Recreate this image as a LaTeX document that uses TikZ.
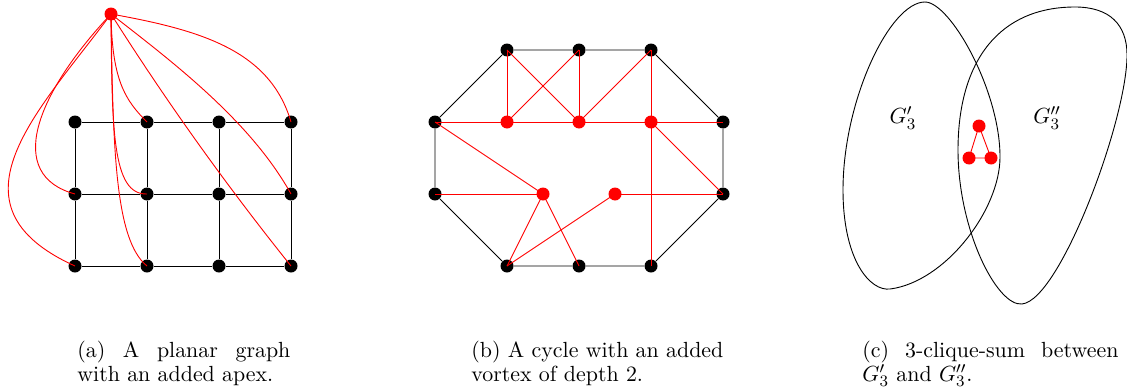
\documentclass[tikz,border=0pt]{standalone}
\pgfdeclarelayer{bg}
\pgfdeclarelayer{fg}
\pgfsetlayers{bg,main,fg}
\begin{document}
\begin{tikzpicture}[x=0.5pt,y=-0.5pt,
  bdot/.style={circle,fill=black,inner sep=0pt,minimum size=6.5pt},
  rdot/.style={circle,fill=red,inner sep=0pt,minimum size=6.5pt},
  bedge/.style={black,line width=0.45pt},
  redge/.style={red,line width=0.45pt},
  blob/.style={black,line width=0.45pt},
  lbl/.style={inner sep=0pt,font=\fontsize{10.95}{11.6}\selectfont},
  capt/.style={anchor=north west,inner sep=0pt,align=justify,font=\fontsize{10.95}{11.6}\selectfont}]
\useasboundingbox (0,0) rectangle (1127,391);

% ---------------- (a) ----------------
\foreach \c/\x in {1/75,2/147,3/219,4/291}{
  \foreach \r/\y in {1/122,2/194,3/266}{
    \node[bdot] (a\r\c) at (\x,\y) {};
  }
}
\begin{pgfonlayer}{fg}
\node[rdot] (ap) at (111,14) {};
\end{pgfonlayer}
\begin{pgfonlayer}{bg}
\foreach \r in {1,2,3}{\draw[bedge] (a\r1)--(a\r2)--(a\r3)--(a\r4);}
\foreach \c in {1,2,3,4}{\draw[bedge] (a1\c)--(a2\c)--(a3\c);}
\end{pgfonlayer}
\draw[redge] (ap.center) .. controls (40,110) and (-60,205) .. (a31.center);
\draw[redge] (ap.center) .. controls (35,95) and (5,175) .. (a21.center);
\draw[redge] (ap.center) .. controls (112,80) and (125,100) .. (a12.center);
\draw[redge] (ap.center) .. controls (112,130) and (112,195) .. (a22.center);
\draw[redge] (ap.center) .. controls (113,150) and (115,240) .. (a32.center);
\draw[redge] (ap.center) .. controls (200,30) and (270,50) .. (a14.center);
\draw[redge] (ap.center) .. controls (170,60) and (250,120) .. (a24.center);
\draw[redge] (ap.center) .. controls (166,101) and (226,185) .. (a34.center);

% ---------------- (b) ----------------
\foreach \n/\x/\y in {1/507/50,2/579/50,3/651/50,4/723/122,5/723/194,6/651/266,7/579/266,8/507/266,9/435/194,10/435/122}{
  \node[bdot] (b\n) at (\x,\y) {};
}
\begin{pgfonlayer}{fg}
\foreach \n/\x/\y in {1/507/122,2/579/122,3/651/122,4/543/194,5/615/194}{
  \node[rdot] (r\n) at (\x,\y) {};
}
\end{pgfonlayer}
\begin{pgfonlayer}{bg}
\draw[bedge] (b1)--(b2)--(b3)--(b4)--(b5)--(b6)--(b7)--(b8)--(b9)--(b10)--(b1);
\end{pgfonlayer}
\foreach \u/\v in {b1/r1,b1/r2,b2/r1,b2/r2,b3/r2,b3/r3,b10/r1,r1/r2,r2/r3,r3/b4,r3/b5,r3/b6,b10/r4,b9/r4,r4/b8,r4/b7,r5/b8,r5/b5}{
  \draw[redge] (\u.center)--(\v.center);
}

% ---------------- (c) ----------------
\draw[blob] (925,2) .. controls (950,2) and (1000,90) .. (1000,157)
  .. controls (1000,210) and (945,282) .. (890,289)
  .. controls (870,291.5) and (843,260) .. (843,190)
  .. controls (843,100) and (890,2) .. cycle;
\draw[blob] (1075,7) .. controls (1110,7) and (1127,25) .. (1127,55)
  .. controls (1127,120) and (1060,300) .. (1022,304)
  .. controls (997,306.6) and (958,230) .. (958,150)
  .. controls (958,60) and (1000,7) .. cycle;
\begin{pgfonlayer}{fg}
\node[rdot] (t1) at (979,126) {};
\node[rdot] (t2) at (969,158) {};
\node[rdot] (t3) at (991,158) {};
\end{pgfonlayer}
\draw[redge] (t1.center)--(t2.center)--(t3.center)--(t1.center);
\node[lbl] (g1) at (903,118) {$G'_3$};
\node[lbl] (g2) at (1047,118) {$G''_3$};

% ---------------- captions ----------------
\node[capt,text width=106.5pt] (ca) at (77,341) {(a) A planar graph\linebreak with an added apex.};
\node[capt,text width=126pt] (cb) at (471,341) {(b) A cycle with an added\linebreak vortex of depth 2.};
\node[capt,text width=128pt] (cc) at (862,341) {(c) 3-clique-sum between\linebreak $G'_3$ and $G''_3$.};
\end{tikzpicture}
\end{document}
